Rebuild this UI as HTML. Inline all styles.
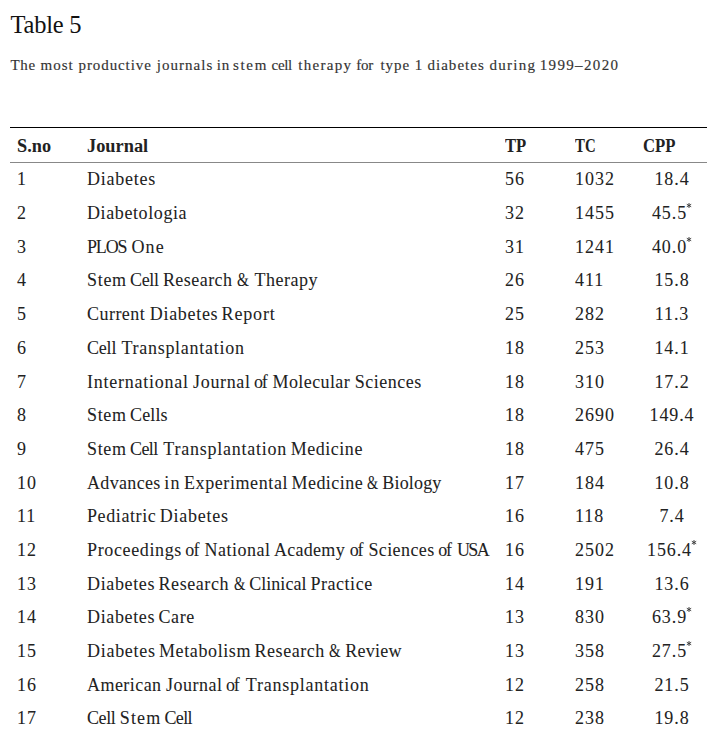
<!DOCTYPE html>
<html><head><meta charset="utf-8"><style>
html,body{margin:0;padding:0;background:#fff;width:724px;height:743px;overflow:hidden}
body{font-family:"Liberation Serif",serif;color:#222;position:relative}
.t{position:absolute;white-space:nowrap;line-height:1}
.title{left:10.5px;top:12.6px;font-size:24.5px;letter-spacing:-0.25px;color:#111}
.cap{left:10px;top:58px;font-size:15px;color:#333;letter-spacing:0.956px;word-spacing:0px;-webkit-text-stroke:0.15px #333}
.line1{position:absolute;left:10px;width:697px;top:127px;height:1px;background:#000}
.line2{position:absolute;left:10px;width:697px;top:162px;height:1px;background:#888}
.c{font-size:18px;-webkit-text-stroke:0.06px #222}
.d{font-size:18px}
.n{letter-spacing:1.0px}
.h{-webkit-text-stroke:0px #222;font-weight:bold;color:#222;letter-spacing:0.5px}
.cpp{width:56px;text-align:center;left:644px;letter-spacing:0.9px}
.ast{position:relative;vertical-align:baseline;top:-10.8px;margin-left:-1px}
.cv{position:relative;display:inline-block}
</style></head><body>
<div class="t title">Table 5</div>
<div class="t cap" style="left:10.40px;letter-spacing:0.750px">The</div>
<div class="t cap" style="left:40.50px;letter-spacing:1.000px">most</div>
<div class="t cap" style="left:78.50px;letter-spacing:0.911px">productive</div>
<div class="t cap" style="left:156.70px;letter-spacing:1.043px">journals</div>
<div class="t cap" style="left:216.80px;letter-spacing:0.800px">in</div>
<div class="t cap" style="left:233.00px;letter-spacing:1.667px">stem</div>
<div class="t cap" style="left:271.60px;letter-spacing:-0.367px">cell</div>
<div class="t cap" style="left:298.30px;letter-spacing:1.283px">therapy</div>
<div class="t cap" style="left:356.20px;letter-spacing:-0.250px">for</div>
<div class="t cap" style="left:380.40px;letter-spacing:1.000px">type</div>
<div class="t cap" style="left:414.80px;letter-spacing:0.000px">1</div>
<div class="t cap" style="left:427.40px;letter-spacing:1.043px">diabetes</div>
<div class="t cap" style="left:489.60px;letter-spacing:1.260px">during</div>
<div class="t cap" style="left:539.70px;letter-spacing:1.350px">1999–2020</div>
<div class="line1"></div><div class="line2"></div>
<div class="t c h" style="left:16.88px;top:137.33px;letter-spacing:0;transform:scaleX(1.016);transform-origin:0 0">S.no</div>
<div class="t c h" style="left:86.68px;top:137.33px;letter-spacing:0;transform:scaleX(1.019);transform-origin:0 0">Journal</div>
<div class="t c h" style="left:505.2px;top:137.33px;letter-spacing:0;transform:scaleX(0.926);transform-origin:0 0">TP</div>
<div class="t c h" style="left:575.1px;top:137.33px;letter-spacing:0;transform:scaleX(0.825);transform-origin:0 0">TC</div>
<div class="t c h" style="left:643.47px;top:137.33px;letter-spacing:0;transform:scaleX(0.929);transform-origin:0 0">CPP</div>
<div class="t c n d" style="left:17px;top:170.43px">1</div>
<div class="t c" style="left:87.0px;top:170.43px;letter-spacing:0.771px">Diabetes</div>
<div class="t c n d" style="left:505px;top:170.43px">56</div>
<div class="t c n d" style="left:575px;top:170.43px">1032</div>
<div class="t c cpp d" style="top:170.43px">18.4</div>
<div class="t c n d" style="left:17px;top:204.11px">2</div>
<div class="t c" style="left:87.0px;top:204.11px;letter-spacing:0.6px">Diabetologia</div>
<div class="t c n d" style="left:505px;top:204.11px">32</div>
<div class="t c n d" style="left:575px;top:204.11px">1455</div>
<div class="t c cpp d" style="top:204.11px">45.5<svg class="ast" width="6" height="5" viewBox="0 0 6 5"><g stroke="#333" stroke-width="0.9"><path d="M3 0V5M0.8 1.25L5.2 3.75M0.8 3.75L5.2 1.25"/></g></svg></div>
<div class="t c n d" style="left:17px;top:237.79px">3</div>
<div class="t c" style="left:87.0px;top:237.79px;letter-spacing:-1.167px">PLOS</div>
<div class="t c" style="left:131.5px;top:237.79px;letter-spacing:1.1px">One</div>
<div class="t c n d" style="left:505px;top:237.79px">31</div>
<div class="t c n d" style="left:575px;top:237.79px">1241</div>
<div class="t c cpp d" style="top:237.79px">40.0<svg class="ast" width="6" height="5" viewBox="0 0 6 5"><g stroke="#333" stroke-width="0.9"><path d="M3 0V5M0.8 1.25L5.2 3.75M0.8 3.75L5.2 1.25"/></g></svg></div>
<div class="t c n d" style="left:17px;top:271.46px">4</div>
<div class="t c" style="left:87.0px;top:271.46px;letter-spacing:0.7px">Stem</div>
<div class="t c" style="left:130.1px;top:271.46px;letter-spacing:-0.4px">Cell</div>
<div class="t c" style="left:162.9px;top:271.46px;letter-spacing:0.457px">Research</div>
<div class="t c" style="left:237.25px;top:271.46px;letter-spacing:0px;transform:scaleX(0.846);transform-origin:0 0">&amp;</div>
<div class="t c" style="left:254.4px;top:271.46px;letter-spacing:0.533px">Therapy</div>
<div class="t c n d" style="left:505px;top:271.46px">26</div>
<div class="t c n d" style="left:575px;top:271.46px">411</div>
<div class="t c cpp d" style="top:271.46px">15.8</div>
<div class="t c n d" style="left:17px;top:305.15px">5</div>
<div class="t c" style="left:87.0px;top:305.15px;letter-spacing:0.467px">Current</div>
<div class="t c" style="left:149.8px;top:305.15px;letter-spacing:0.686px">Diabetes</div>
<div class="t c" style="left:221.6px;top:305.15px;letter-spacing:0.84px">Report</div>
<div class="t c n d" style="left:505px;top:305.15px">25</div>
<div class="t c n d" style="left:575px;top:305.15px">282</div>
<div class="t c cpp d" style="top:305.15px">11.3</div>
<div class="t c n d" style="left:17px;top:338.82px">6</div>
<div class="t c" style="left:87.0px;top:338.82px;letter-spacing:-0.2px">Cell</div>
<div class="t c" style="left:121.4px;top:338.82px;letter-spacing:0.729px">Transplantation</div>
<div class="t c n d" style="left:505px;top:338.82px">18</div>
<div class="t c n d" style="left:575px;top:338.82px">253</div>
<div class="t c cpp d" style="top:338.82px">14.1</div>
<div class="t c n d" style="left:17px;top:372.50px">7</div>
<div class="t c" style="left:87.0px;top:372.50px;letter-spacing:0.758px">International</div>
<div class="t c" style="left:193.1px;top:372.50px;letter-spacing:0.65px">Journal</div>
<div class="t c" style="left:254.0px;top:372.50px;letter-spacing:-1.2px">of</div>
<div class="t c" style="left:272.6px;top:372.50px;letter-spacing:0.387px">Molecular</div>
<div class="t c" style="left:354.7px;top:372.50px;letter-spacing:0.514px">Sciences</div>
<div class="t c n d" style="left:505px;top:372.50px">18</div>
<div class="t c n d" style="left:575px;top:372.50px">310</div>
<div class="t c cpp d" style="top:372.50px">17.2</div>
<div class="t c n d" style="left:17px;top:406.19px">8</div>
<div class="t c" style="left:87.0px;top:406.19px;letter-spacing:0.667px">Stem</div>
<div class="t c" style="left:130.0px;top:406.19px;letter-spacing:0.15px">Cells</div>
<div class="t c n d" style="left:505px;top:406.19px">18</div>
<div class="t c n d" style="left:575px;top:406.19px">2690</div>
<div class="t c cpp d" style="top:406.19px">149.4</div>
<div class="t c n d" style="left:17px;top:439.87px">9</div>
<div class="t c" style="left:87.0px;top:439.87px;letter-spacing:0.667px">Stem</div>
<div class="t c" style="left:130.0px;top:439.87px;letter-spacing:-0.567px">Cell</div>
<div class="t c" style="left:163.3px;top:439.87px;letter-spacing:0.75px">Transplantation</div>
<div class="t c" style="left:290.8px;top:439.87px;letter-spacing:0.514px">Medicine</div>
<div class="t c n d" style="left:505px;top:439.87px">18</div>
<div class="t c n d" style="left:575px;top:439.87px">475</div>
<div class="t c cpp d" style="top:439.87px">26.4</div>
<div class="t c n d" style="left:17px;top:473.55px">10</div>
<div class="t c" style="left:87.0px;top:473.55px;letter-spacing:0.329px">Advances</div>
<div class="t c" style="left:164.3px;top:473.55px;letter-spacing:1.2px">in</div>
<div class="t c" style="left:184.0px;top:473.55px;letter-spacing:0.591px">Experimental</div>
<div class="t c" style="left:291.5px;top:473.55px;letter-spacing:0.457px">Medicine</div>
<div class="t c" style="left:366.91px;top:473.55px;letter-spacing:0px;transform:scaleX(0.792);transform-origin:0 0">&amp;</div>
<div class="t c" style="left:382.3px;top:473.55px;letter-spacing:0.167px">Biology</div>
<div class="t c n d" style="left:505px;top:473.55px">17</div>
<div class="t c n d" style="left:575px;top:473.55px">184</div>
<div class="t c cpp d" style="top:473.55px">10.8</div>
<div class="t c n d" style="left:17px;top:507.22px">11</div>
<div class="t c" style="left:87.0px;top:507.22px;letter-spacing:0.6px">Pediatric</div>
<div class="t c" style="left:159.8px;top:507.22px;letter-spacing:0.757px">Diabetes</div>
<div class="t c n d" style="left:505px;top:507.22px">16</div>
<div class="t c n d" style="left:575px;top:507.22px">118</div>
<div class="t c cpp d" style="top:507.22px">7.4</div>
<div class="t c n d" style="left:17px;top:540.90px">12</div>
<div class="t c" style="left:87.0px;top:540.90px;letter-spacing:0.63px">Proceedings</div>
<div class="t c" style="left:185.3px;top:540.90px;letter-spacing:-0.8px">of</div>
<div class="t c" style="left:204.5px;top:540.90px;letter-spacing:0.486px">National</div>
<div class="t c" style="left:273.9px;top:540.90px;letter-spacing:0.3px">Academy</div>
<div class="t c" style="left:349.7px;top:540.90px;letter-spacing:-1.2px">of</div>
<div class="t c" style="left:368.4px;top:540.90px;letter-spacing:0.4px">Sciences</div>
<div class="t c" style="left:438.2px;top:540.90px;letter-spacing:-1.2px">of</div>
<div class="t c" style="left:457.0px;top:540.90px;letter-spacing:-1.65px">USA</div>
<div class="t c n d" style="left:505px;top:540.90px">16</div>
<div class="t c n d" style="left:575px;top:540.90px">2502</div>
<div class="t c cpp d" style="top:540.90px">156.4<svg class="ast" width="6" height="5" viewBox="0 0 6 5"><g stroke="#333" stroke-width="0.9"><path d="M3 0V5M0.8 1.25L5.2 3.75M0.8 3.75L5.2 1.25"/></g></svg></div>
<div class="t c n d" style="left:17px;top:574.58px">13</div>
<div class="t c" style="left:87.0px;top:574.58px;letter-spacing:0.643px">Diabetes</div>
<div class="t c" style="left:158.5px;top:574.58px;letter-spacing:0.571px">Research</div>
<div class="t c" style="left:233.69px;top:574.58px;letter-spacing:0px;transform:scaleX(0.808);transform-origin:0 0">&amp;</div>
<div class="t c" style="left:249.3px;top:574.58px;letter-spacing:0.014px">Clinical</div>
<div class="t c" style="left:310.4px;top:574.58px;letter-spacing:0.543px">Practice</div>
<div class="t c n d" style="left:505px;top:574.58px">14</div>
<div class="t c n d" style="left:575px;top:574.58px">191</div>
<div class="t c cpp d" style="top:574.58px">13.6</div>
<div class="t c n d" style="left:17px;top:608.26px">14</div>
<div class="t c" style="left:87.0px;top:608.26px;letter-spacing:0.643px">Diabetes</div>
<div class="t c" style="left:158.5px;top:608.26px;letter-spacing:0.6px">Care</div>
<div class="t c n d" style="left:505px;top:608.26px">13</div>
<div class="t c n d" style="left:575px;top:608.26px">830</div>
<div class="t c cpp d" style="top:608.26px">63.9<svg class="ast" width="6" height="5" viewBox="0 0 6 5"><g stroke="#333" stroke-width="0.9"><path d="M3 0V5M0.8 1.25L5.2 3.75M0.8 3.75L5.2 1.25"/></g></svg></div>
<div class="t c n d" style="left:17px;top:641.94px">15</div>
<div class="t c" style="left:87.0px;top:641.94px;letter-spacing:0.714px">Diabetes</div>
<div class="t c" style="left:159.0px;top:641.94px;letter-spacing:0.611px">Metabolism</div>
<div class="t c" style="left:254.5px;top:641.94px;letter-spacing:0.543px">Research</div>
<div class="t c" style="left:329.48px;top:641.94px;letter-spacing:0px;transform:scaleX(0.823);transform-origin:0 0">&amp;</div>
<div class="t c" style="left:345.3px;top:641.94px;letter-spacing:0.22px">Review</div>
<div class="t c n d" style="left:505px;top:641.94px">13</div>
<div class="t c n d" style="left:575px;top:641.94px">358</div>
<div class="t c cpp d" style="top:641.94px">27.5<svg class="ast" width="6" height="5" viewBox="0 0 6 5"><g stroke="#333" stroke-width="0.9"><path d="M3 0V5M0.8 1.25L5.2 3.75M0.8 3.75L5.2 1.25"/></g></svg></div>
<div class="t c n d" style="left:17px;top:675.62px">16</div>
<div class="t c" style="left:87.0px;top:675.62px;letter-spacing:0.443px">American</div>
<div class="t c" style="left:166.1px;top:675.62px;letter-spacing:0.483px">Journal</div>
<div class="t c" style="left:226.0px;top:675.62px;letter-spacing:-1.2px">of</div>
<div class="t c" style="left:245.8px;top:675.62px;letter-spacing:0.75px">Transplantation</div>
<div class="t c n d" style="left:505px;top:675.62px">12</div>
<div class="t c n d" style="left:575px;top:675.62px">258</div>
<div class="t c cpp d" style="top:675.62px">21.5</div>
<div class="t c n d" style="left:17px;top:709.30px">17</div>
<div class="t c" style="left:87.0px;top:709.30px;letter-spacing:-0.433px">Cell</div>
<div class="t c" style="left:119.7px;top:709.30px;letter-spacing:1.2px">Stem</div>
<div class="t c" style="left:164.5px;top:709.30px;letter-spacing:-0.633px">Cell</div>
<div class="t c n d" style="left:505px;top:709.30px">12</div>
<div class="t c n d" style="left:575px;top:709.30px">238</div>
<div class="t c cpp d" style="top:709.30px">19.8</div>
</body></html>
